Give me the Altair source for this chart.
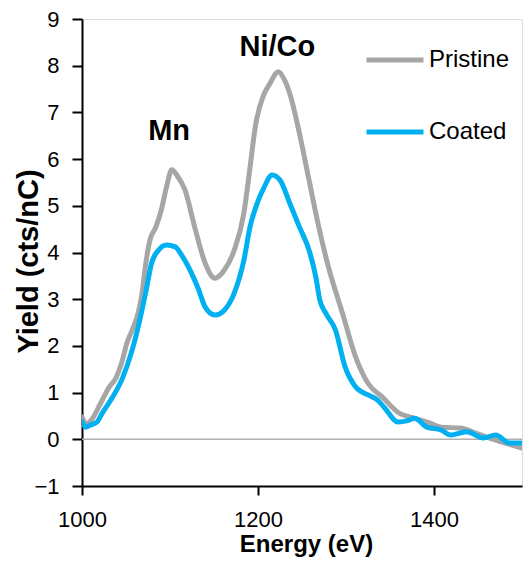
import altair as alt
import pandas as pd

pristine_x = [1000, 1005, 1012, 1020, 1031, 1039, 1046, 1051, 1057, 1064, 1068, 1072, 1077, 1084, 1090, 1096,
              1102, 1108, 1117, 1128, 1140, 1151, 1162, 1173, 1184, 1191, 1197, 1207, 1213, 1223, 1230, 1236,
              1247, 1258, 1269, 1280, 1296, 1311, 1325, 1341, 1359, 1378, 1395, 1408, 1430, 1445, 1459, 1481,
              1500]
pristine_y = [0.48, 0.33, 0.45, 0.73, 1.12, 1.33, 1.7, 2.06, 2.34, 2.72, 3.1, 3.7, 4.25, 4.55, 4.9, 5.4,
              5.77, 5.65, 5.34, 4.55, 3.77, 3.45, 3.63, 4.05, 4.85, 5.83, 6.7, 7.4, 7.6, 7.87, 7.7, 7.41,
              6.56, 5.55, 4.55, 3.69, 2.7, 1.76, 1.2, 0.91, 0.58, 0.45, 0.35, 0.26, 0.24, 0.15, 0.05, -0.08,
              -0.19]

coated_x = [1000, 1004, 1009, 1017, 1023, 1035, 1046, 1056, 1061, 1065, 1073, 1079, 1087, 1096, 1106, 1113,
            1121, 1132, 1140, 1151, 1162, 1173, 1184, 1191, 1199, 1207, 1216, 1225, 1236, 1247, 1258, 1266,
            1270, 1277, 1288, 1299, 1311, 1325, 1336, 1344, 1359, 1370, 1378, 1392, 1408, 1419, 1437, 1456,
            1470, 1486, 1500]
coated_y = [0.38, 0.26, 0.3, 0.37, 0.56, 0.91, 1.31, 1.85, 2.19, 2.5, 3.2, 3.77, 4.05, 4.16, 4.12, 3.95,
            3.69, 3.23, 2.83, 2.66, 2.77, 3.13, 3.84, 4.55, 5.05, 5.4, 5.66, 5.55, 5.06, 4.55, 4.05, 3.45,
            3.0, 2.7, 2.34, 1.55, 1.12, 0.95, 0.84, 0.67, 0.37, 0.4, 0.45, 0.26, 0.2, 0.09, 0.16, 0.03,
            0.09, -0.08, -0.08]

series_names = ["Pristine", "Coated"]
series_colors = ["#a6a6a6", "#00b0f0"]

labels_text = ["Mn", "Ni/Co"]
labels_x = [1099, 1222]
labels_y = [6.6, 8.39]

rows = []
for i, (x, y) in enumerate(zip(pristine_x, pristine_y)):
    rows.append({"energy": x, "yield": y, "series": "Pristine", "order": i})
for i, (x, y) in enumerate(zip(coated_x, coated_y)):
    rows.append({"energy": x, "yield": y, "series": "Coated", "order": i})
df = pd.DataFrame(rows)

ann = pd.DataFrame({"text": labels_text, "energy": labels_x, "yield": labels_y})

FONT = "Liberation Sans"

xscale = alt.Scale(domain=[1000, 1500], nice=False, zero=False)
yscale = alt.Scale(domain=[-1, 9], nice=False, zero=False)

zero = alt.Chart(pd.DataFrame({"y": [0]})).mark_rule(color="#b0b0b0", strokeWidth=1.5).encode(
    y=alt.Y("y:Q", scale=yscale)
)

lines = alt.Chart(df).mark_line(strokeWidth=5, strokeCap="round", strokeJoin="round",
                                interpolate="monotone", clip=True).encode(
    x=alt.X("energy:Q", scale=xscale,
            axis=alt.Axis(title="Energy (eV)", values=[1000, 1200, 1400], format="d", grid=False,
                          labelFlush=False,
                          domainColor="black", domainWidth=2, tickColor="black", tickWidth=2, tickSize=9,
                          labelFont=FONT, labelFontSize=22, labelColor="black", labelPadding=14,
                          titleFont=FONT, titleFontSize=24, titleFontWeight="bold", titleColor="black",
                          titleX=224, titleY=65, titleBaseline="alphabetic")),
    y=alt.Y("yield:Q", scale=yscale,
            axis=alt.Axis(title="Yield (cts/nC)", values=list(range(-1, 10)), grid=False,
                          domainColor="black", domainWidth=2, tickColor="black", tickWidth=2, tickSize=10,
                          labelFont=FONT, labelFontSize=22, labelColor="black", labelPadding=13,
                          titleFont=FONT, titleFontSize=29, titleFontWeight="bold", titleColor="black",
                          titleX=-45, titleY=242, titleBaseline="alphabetic", titleAngle=270)),
    color=alt.Color("series:N", scale=alt.Scale(domain=series_names, range=series_colors),
                    legend=alt.Legend(title=None, orient="none", legendX=282, legendY=10,
                                      symbolType="stroke", symbolSize=3249, symbolStrokeWidth=5,
                                      labelFont=FONT, labelFontSize=24, labelColor="black",
                                      rowPadding=29, labelOffset=3)),
    order="order:Q",
)

text = alt.Chart(ann).mark_text(font=FONT, fontSize=29, fontWeight="bold", color="black").encode(
    x=alt.X("energy:Q", scale=xscale),
    y=alt.Y("yield:Q", scale=yscale),
    text="text:N",
)

chart = alt.layer(zero, lines, text).properties(
    width=440, height=467,
    autosize=alt.AutoSizeParams(type="none"),
    padding={"left": 74, "top": 11, "right": 2, "bottom": 72},
).configure_view(stroke="black", strokeWidth=1.5).configure(background="white")

chart.save("out.html", embed_options={"renderer": "svg", "actions": False})
